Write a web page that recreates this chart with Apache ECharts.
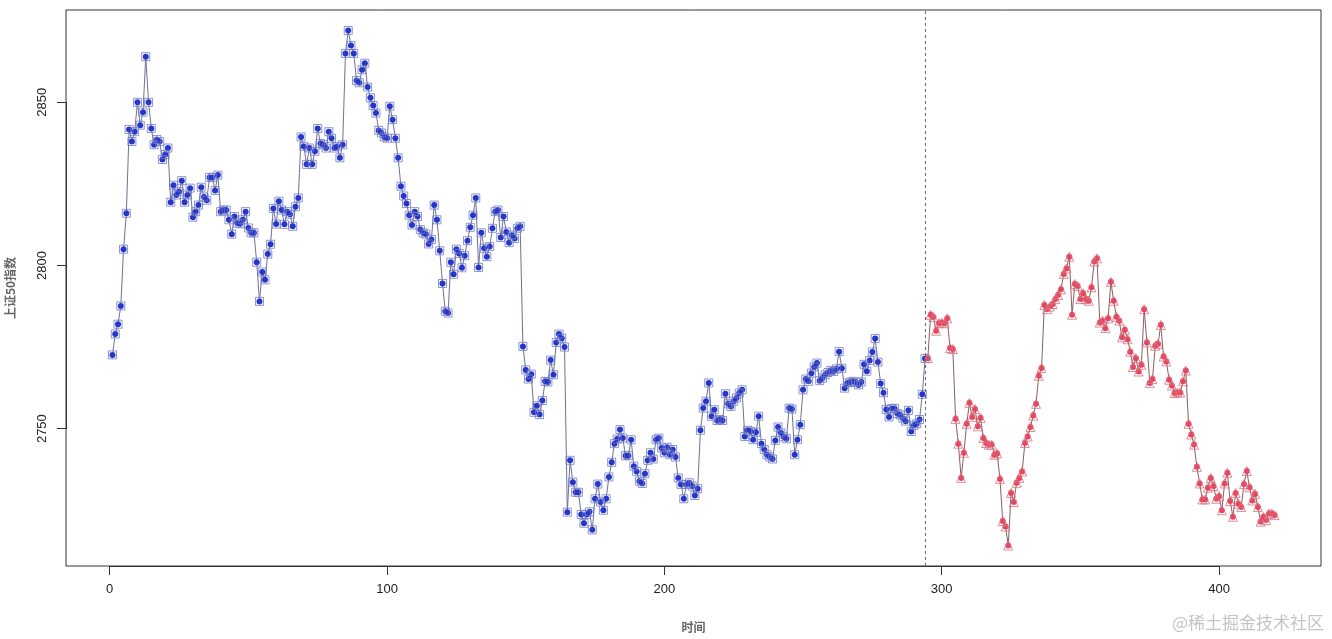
<!DOCTYPE html>
<html>
<head>
<meta charset="utf-8">
<title>上证50指数</title>
<script src="https://cdn.jsdelivr.net/npm/echarts@6/dist/echarts.min.js"></script>
<style>
  html, body { margin: 0; padding: 0; background: #fff; }
  #chart { width: 1332px; height: 639px; }
</style>
</head>
<body>
<div id="chart"></div>
<script>
// 训练段 (t = 1 .. 294)
var trainValues = [
  2772.6, 2779, 2782, 2787.6, 2805, 2816, 2841.7, 2838, 2841, 2850,
  2843, 2847, 2864, 2850, 2842, 2837, 2838.6, 2838, 2832.5, 2834,
  2836, 2819.4, 2824.6, 2821.6, 2822.6, 2826, 2819.4, 2821.6, 2823.7, 2814.8,
  2816.5, 2818.5, 2824, 2821, 2820, 2827, 2827, 2823, 2827.7, 2816.5,
  2817, 2817, 2814, 2809.6, 2815, 2813, 2812.8, 2814, 2816.5, 2811.5,
  2810, 2810, 2801, 2789, 2798, 2795.6, 2803.5, 2806.5, 2817.5, 2812.7,
  2819.7, 2817, 2812.6, 2816.5, 2815.7, 2812, 2818, 2820.7, 2839.4, 2836.5,
  2831, 2836, 2831, 2835, 2842, 2837.4, 2837, 2836, 2841, 2839,
  2836, 2836.5, 2833, 2837, 2865, 2872, 2867.4, 2865, 2856.7, 2856,
  2860, 2862, 2854.7, 2851.4, 2849, 2846.7, 2841.4, 2840.6, 2839.4, 2839,
  2848.8, 2844.7, 2839, 2833, 2824.3, 2821.3, 2819, 2815.4, 2812.4, 2816.5,
  2815, 2811, 2810, 2809.6, 2806.6, 2808, 2818.5, 2814, 2804.5, 2794.5,
  2786, 2785.4, 2801, 2797.3, 2805, 2803.7, 2799.3, 2803, 2807.6, 2811.7,
  2815.4, 2820.7, 2799.4, 2810, 2805.3, 2802.7, 2805.8, 2811.4, 2816.5, 2817,
  2808.6, 2815, 2810.3, 2807, 2809.3, 2808.3, 2811.4, 2812, 2775.2, 2768,
  2765.2, 2766.7, 2755, 2757, 2754.3, 2758.6, 2764.5, 2764.3, 2771, 2766.5,
  2776.4, 2779, 2777.7, 2775, 2724.4, 2740.3, 2733.6, 2730.5, 2730.5, 2723.7,
  2721, 2723.7, 2724.5, 2719, 2728.5, 2733, 2727.5, 2725, 2728.5, 2735.2,
  2739.7, 2745.4, 2746.8, 2749.7, 2747.1, 2741.7, 2741.7, 2746.6, 2738.5, 2736.9,
  2733.9, 2733.2, 2736.2, 2740.3, 2742.6, 2740.7, 2746.6, 2747.1, 2744.1, 2742.6,
  2744.3, 2742, 2743.6, 2741.3, 2734.9, 2732.9, 2728.5, 2732.9, 2733.4, 2732.4,
  2729.5, 2731.6, 2749.5, 2756.3, 2758.4, 2764, 2753.8, 2755.8, 2752.5, 2752.8,
  2752.5, 2760.7, 2757.6, 2756.8, 2758.4, 2759.4, 2760.9, 2761.9, 2747.6, 2749.5,
  2749.2, 2746.6, 2748.9, 2753.8, 2745.4, 2743.6, 2742, 2741.3, 2740.7, 2746.4,
  2750.5, 2748.7, 2747.5, 2746.9, 2756.3, 2756, 2742, 2746.6, 2751.2, 2761.9,
  2765.2, 2764.5, 2767, 2768.9, 2770.1, 2764.7, 2765.5, 2766.5, 2767.2, 2767.8,
  2767.5, 2768.3, 2773.6, 2768.5, 2762.4, 2764, 2764.2, 2764.5, 2764.2, 2763.4,
  2764.3, 2769.7, 2767.6, 2770.9, 2773.5, 2777.6, 2770.4, 2763.8, 2761, 2755.9,
  2753.6, 2756.2, 2756.2, 2754.6, 2754.2, 2753.2, 2752.3, 2755.6, 2749.1, 2751,
  2751.5, 2752.8, 2760.5, 2771.5
]

// 预测段 (t = 295 .. 420)
var testValues = [
  2771.6, 2784.9, 2784.2, 2780, 2782.3, 2782.5, 2782.3, 2783.8, 2774.7, 2774.4,
  2753, 2745.4, 2734.9, 2742.6, 2751.5, 2757.9, 2753.6, 2756, 2750.7, 2753.3,
  2747.1, 2745.6, 2745.1, 2745.1, 2742, 2742.4, 2734.6, 2721.7, 2720, 2714.2,
  2730.3, 2727.5, 2733.4, 2734.9, 2736.9, 2745.6, 2747.6, 2750.5, 2754, 2757.6,
  2766.2, 2768.6, 2787.9, 2786.6, 2787.4, 2788.2, 2789.7, 2791, 2792.7, 2797.4,
  2799.1, 2802.7, 2784.9, 2794.3, 2793.7, 2789.7, 2791.5, 2789.7, 2789.2, 2793.3,
  2801.2, 2802.2, 2782.5, 2783.1, 2780.8, 2783.8, 2795, 2789.2, 2784.3, 2783.1,
  2778, 2780.3, 2777.4, 2773.6, 2768.9, 2771.6, 2767.5, 2769.6, 2786.6, 2776.4,
  2764, 2765.2, 2775.4, 2776, 2781.8, 2772.1, 2770.6, 2765, 2763.2, 2760.9,
  2761.1, 2761.1, 2764.5, 2767.8, 2751.5, 2748.2, 2745.1, 2738.3, 2733.2, 2728.3,
  2728.3, 2731.9, 2734.9, 2732.4, 2728.5, 2729.3, 2725, 2733.2, 2736.5, 2727.8,
  2723, 2730.3, 2727, 2726, 2733, 2737, 2732, 2728, 2730, 2726,
  2721.5, 2723, 2722, 2724, 2724, 2723.5
]

var xTicks = [0, 100, 200, 300, 400]
var yTicks = [2750, 2800, 2850]
var splitAt = 294

var trainData = trainValues.map(function (v, k) { return [k + 1, v] })
var testData = testValues.map(function (v, k) { return [k + splitAt + 1, v] })

// R 风格坐标范围: 数据范围两端各扩 4%
var xMin = -15.76, xMax = 436.76
var yMin = 2707.9, yMax = 2878.3

// 主绘图区
var W = 1332, H = 639
var gLeft = 66, gRight = 11, gTop = 10, gBottom = 73
var pxX = (W - gLeft - gRight) / (xMax - xMin)
var pxY = (H - gTop - gBottom) / (yMax - yMin)

var chart = echarts.init(document.getElementById('chart'), null, { renderer: 'canvas' })

var labelFont = 'Liberation Sans, Arial, sans-serif'
var cjkFont = 'Noto Sans CJK SC, sans-serif'
var axisStroke = { show: true, onZero: false, lineStyle: { color: '#333', width: 1 } }
var tickStyle = { show: true, inside: false, length: 9, lineStyle: { color: '#333', width: 1 } }
var tickLabel = { margin: 17, fontFamily: labelFont, fontSize: 13, color: '#222', formatter: function (v) { return String(v) } }

chart.setOption({
  animation: false,
  backgroundColor: '#fff',
  grid: [
    {
      left: gLeft, right: gRight, top: gTop, bottom: gBottom,
      outerBoundsMode: 'none', containLabel: false,
      show: true, borderColor: '#333', borderWidth: 1, backgroundColor: 'transparent'
    },
    // 仅用于 x 刻度: 0..400
    {
      left: gLeft + (xTicks[0] - xMin) * pxX,
      right: gRight + (xMax - xTicks[xTicks.length - 1]) * pxX,
      top: gTop, bottom: gBottom,
      outerBoundsMode: 'none', containLabel: false, show: false
    },
    // 仅用于 y 刻度: 2750..2850
    {
      left: gLeft, right: gRight,
      top: gTop + (yMax - yTicks[yTicks.length - 1]) * pxY,
      bottom: gBottom + (yTicks[0] - yMin) * pxY,
      outerBoundsMode: 'none', containLabel: false, show: false
    }
  ],
  xAxis: [
    {
      gridIndex: 0,
      type: 'value',
      min: xMin,
      max: xMax,
      name: '时间',
      nameLocation: 'middle',
      nameGap: 55,
      nameTextStyle: { fontFamily: cjkFont, fontSize: 12, fontWeight: 'bold', color: '#666' },
      axisLine: { show: false, onZero: false },
      splitLine: { show: false },
      axisTick: { show: false },
      axisLabel: { show: false }
    },
    {
      gridIndex: 1,
      type: 'value',
      min: xTicks[0],
      max: xTicks[xTicks.length - 1],
      interval: 100,
      axisLine: axisStroke,
      splitLine: { show: false },
      axisTick: tickStyle,
      axisLabel: tickLabel
    },
    { gridIndex: 2, type: 'value', show: false, min: 0, max: 1 }
  ],
  yAxis: [
    {
      gridIndex: 0,
      type: 'value',
      min: yMin,
      max: yMax,
      name: '上证50指数',
      nameLocation: 'middle',
      nameGap: 50,
      nameRotate: 90,
      nameTextStyle: { fontFamily: cjkFont, fontSize: 12, fontWeight: 'bold', color: '#666' },
      axisLine: { show: false, onZero: false },
      splitLine: { show: false },
      axisTick: { show: false },
      axisLabel: { show: false }
    },
    { gridIndex: 1, type: 'value', show: false, min: 0, max: 1 },
    {
      gridIndex: 2,
      type: 'value',
      min: yTicks[0],
      max: yTicks[yTicks.length - 1],
      interval: 50,
      axisLine: axisStroke,
      splitLine: { show: false },
      axisTick: tickStyle,
      axisLabel: Object.assign({ rotate: 90 }, tickLabel)
    }
  ],
  series: [
    {
      name: '训练',
      type: 'line',
      data: trainData,
      symbol: 'circle',
      symbolSize: 6,
      showAllSymbol: true,
      itemStyle: { color: '#2536c8' },
      lineStyle: { color: '#6e7299', width: 1 },
      z: 3,
      markLine: {
        silent: true,
        symbol: ['none', 'none'],
        label: { show: false },
        lineStyle: { type: [3, 3], color: '#666', width: 1 },
        data: [{ xAxis: splitAt }]
      }
    },
    {
      name: '训练框',
      type: 'scatter',
      data: trainData,
      symbol: 'rect',
      symbolSize: 8,
      itemStyle: { color: 'rgba(0,0,0,0)', borderColor: '#6f78c4', borderWidth: 1 },
      z: 4
    },
    {
      name: '预测',
      type: 'line',
      data: testData,
      symbol: 'circle',
      symbolSize: 6,
      showAllSymbol: true,
      itemStyle: { color: '#e8445d' },
      lineStyle: { color: '#8c5e5e', width: 1 },
      z: 3
    },
    {
      name: '预测框',
      type: 'scatter',
      data: testData,
      symbol: 'triangle',
      symbolSize: 9,
      itemStyle: { color: 'rgba(0,0,0,0)', borderColor: '#d9707f', borderWidth: 1 },
      z: 4
    }
  ],
  graphic: [
    {
      type: 'text',
      right: 8,
      bottom: 8,
      style: { text: '@稀土掘金技术社区', fontFamily: cjkFont, fontSize: 17, fill: '#c4c4c4' }
    }
  ]
})
</script>
</body>
</html>
